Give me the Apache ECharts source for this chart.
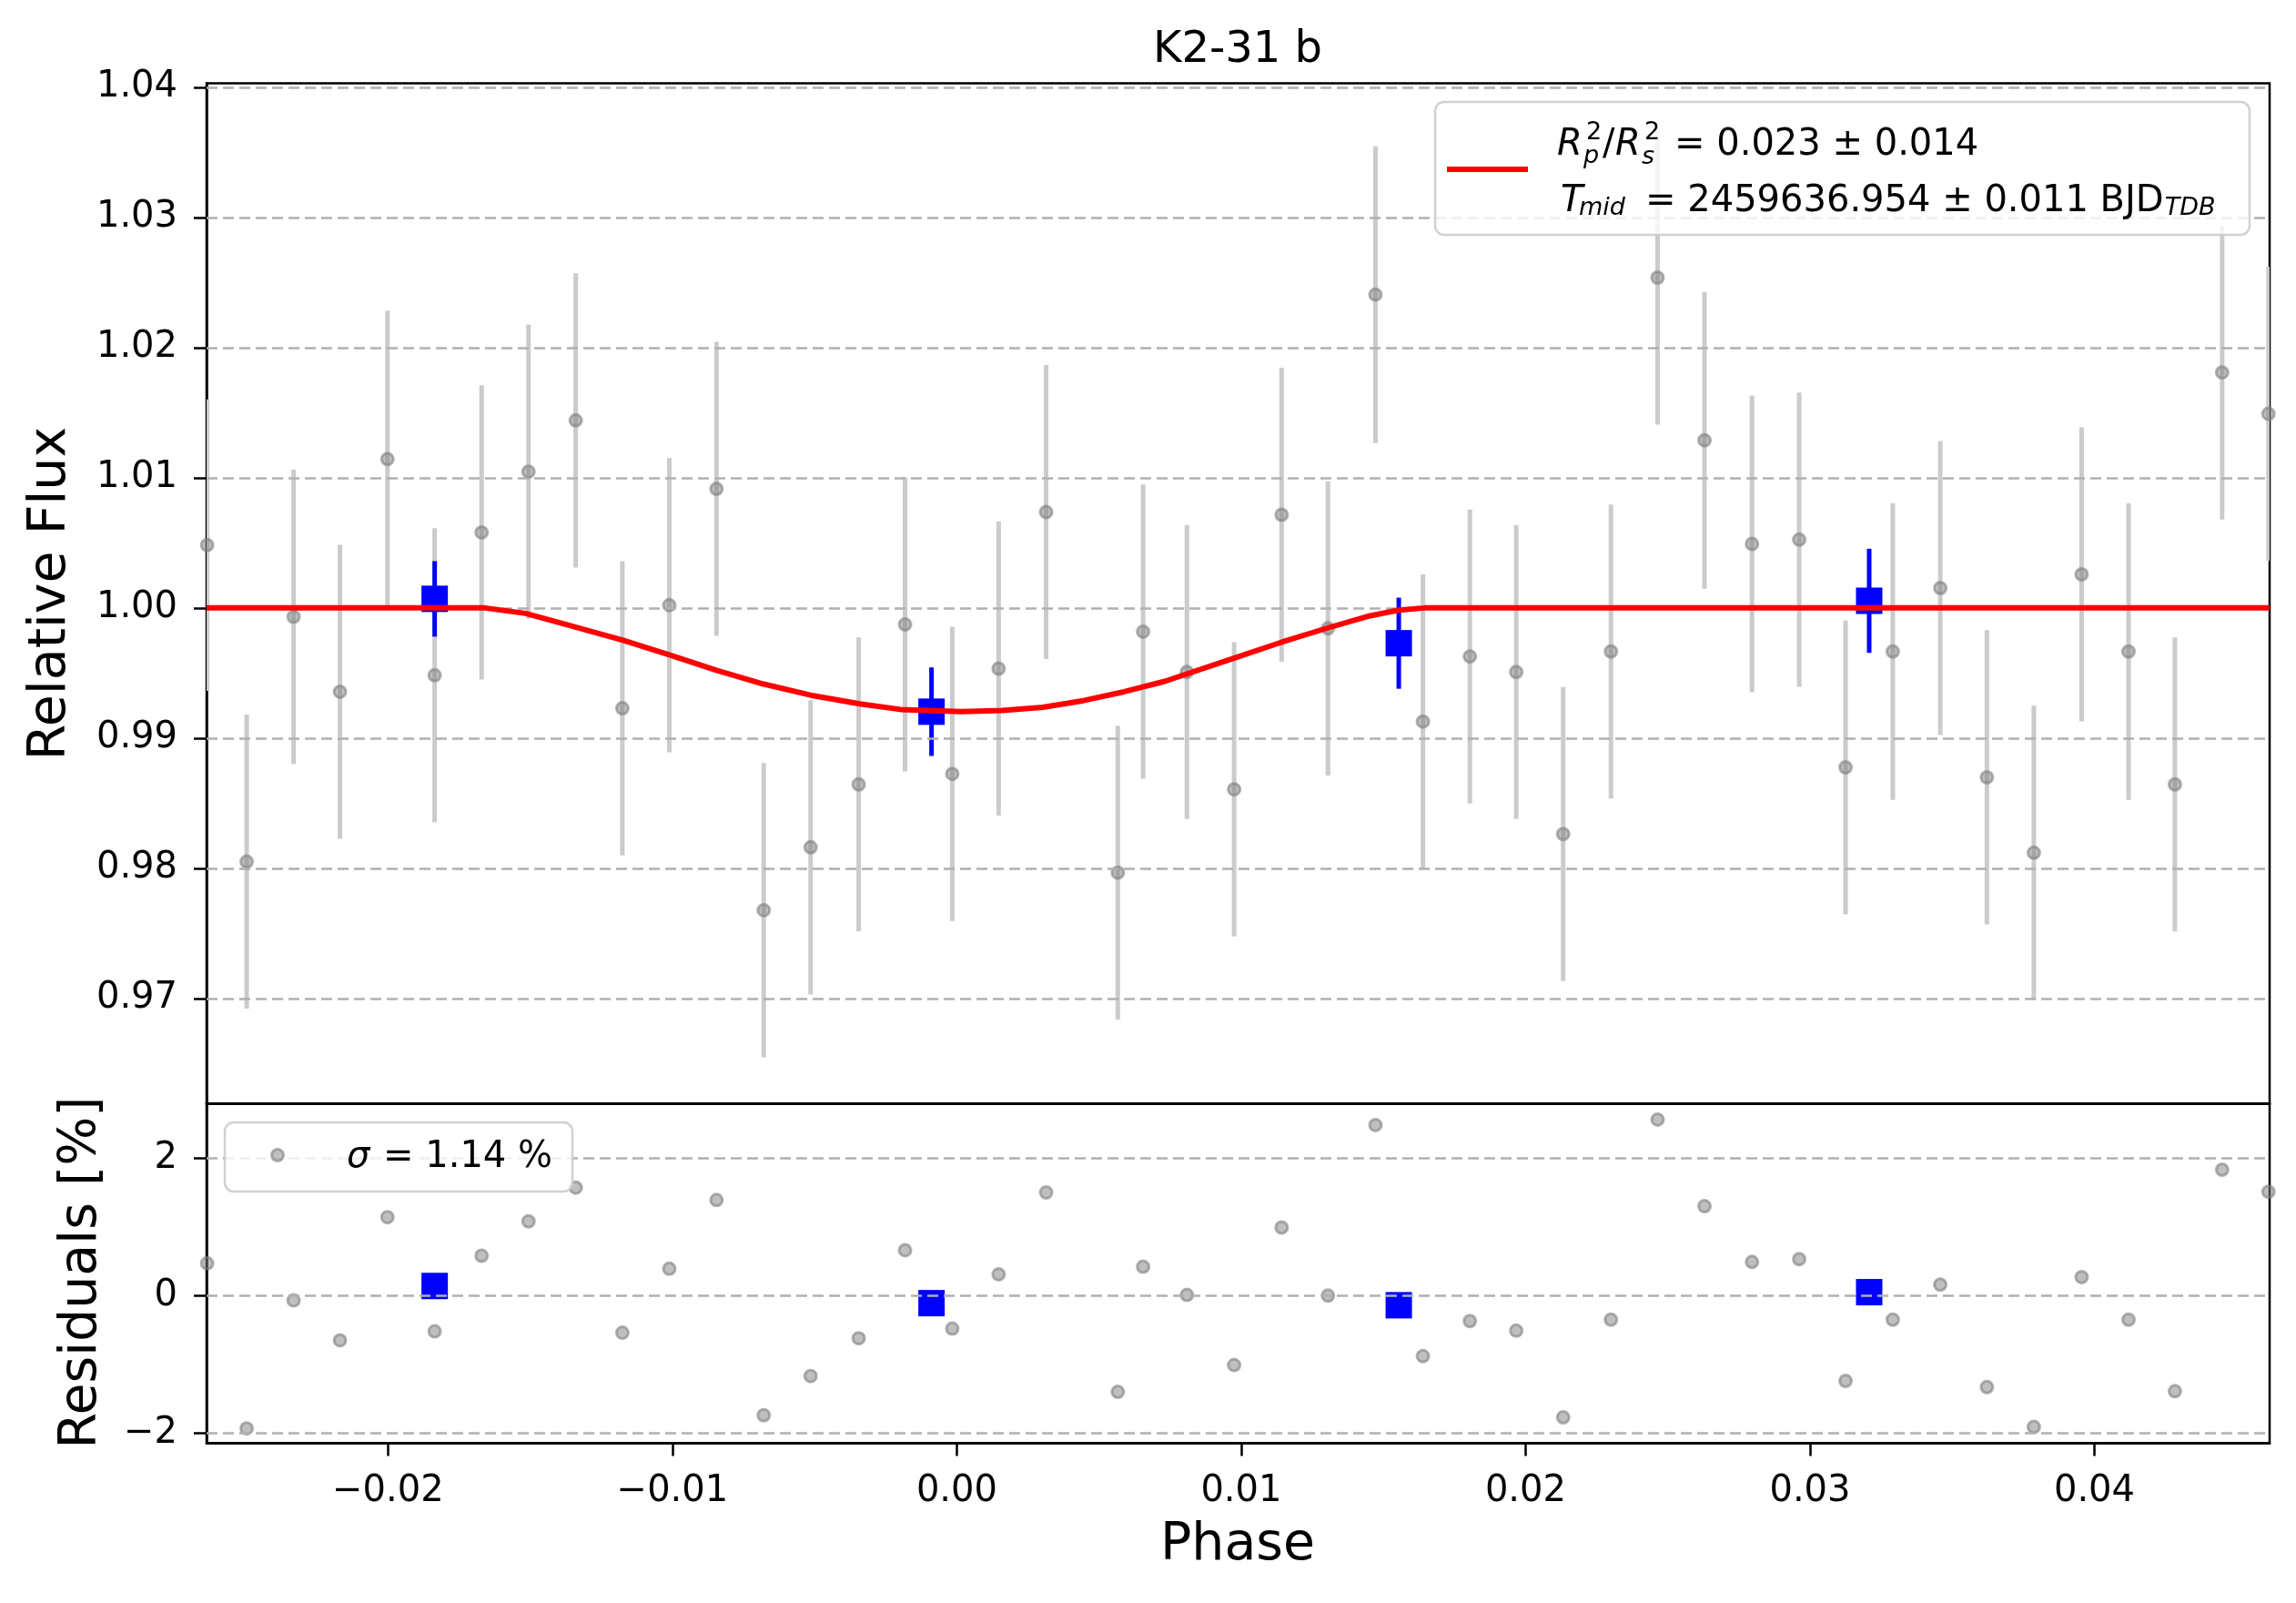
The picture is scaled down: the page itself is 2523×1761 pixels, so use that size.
<!DOCTYPE html>
<html>
<head>
<meta charset="utf-8">
<script src="https://cdn.jsdelivr.net/npm/echarts@6/dist/echarts.min.js"></script>
<style>
  html, body { margin: 0; padding: 0; background: #fff; }
  #chart { width: 2523px; height: 1761px; }
</style>
</head>
<body>
<div id="chart"></div>
<script>
// unbinned light curve
const phase = [-0.02636, -0.02497, -0.02332, -0.02169, -0.02002, -0.01836, -0.01671, -0.01506, -0.01340, -0.01176,
  -0.01011, -0.00845, -0.00679, -0.00514, -0.00345, -0.00182, -0.00016, 0.00147, 0.00314, 0.00566,
  0.00655, 0.00809, 0.00975, 0.01142, 0.01305, 0.01472, 0.01639, 0.01804, 0.01967, 0.02132,
  0.02300, 0.02464, 0.02629, 0.02796, 0.02962, 0.03125, 0.03291, 0.03458, 0.03622, 0.03787,
  0.03955, 0.04120, 0.04283, 0.04449, 0.04612]
const flux = [1.00483, 0.98051, 0.99932, 0.99356, 1.01144, 0.99483, 1.00580, 1.01047, 1.01441, 0.99229,
  1.00021, 1.00915, 0.97678, 0.98161, 0.98644, 0.99873, 0.98725, 0.99534, 1.00737, 0.97966,
  0.99818, 0.99508, 0.98606, 1.00716, 0.99843, 1.02407, 0.99127, 0.99627, 0.99508, 0.98263,
  0.99665, 1.02538, 1.01288, 1.00492, 1.00525, 0.98775, 0.99665, 1.00153, 0.98699, 0.98119,
  1.00258, 0.99665, 0.98644, 1.01809, 1.01492]
const fluxErr = [0.0112, 0.0113, 0.0113, 0.0113, 0.0114, 0.0113, 0.0113, 0.0113, 0.0113, 0.0113,
  0.0113, 0.0113, 0.0113, 0.0113, 0.0113, 0.0113, 0.0113, 0.0113, 0.0113, 0.0113,
  0.0113, 0.0113, 0.0113, 0.0113, 0.0113, 0.0114, 0.0113, 0.0113, 0.0113, 0.0113,
  0.0113, 0.0113, 0.0114, 0.0114, 0.0113, 0.0113, 0.0114, 0.0113, 0.0113, 0.0113,
  0.0113, 0.0114, 0.0113, 0.0113, 0.0113]
const residual = [0.47, -1.93, -0.07, -0.65, 1.14, -0.52, 0.58, 1.08, 1.57, -0.54,
  0.39, 1.39, -1.74, -1.17, -0.62, 0.66, -0.48, 0.31, 1.50, -1.40,
  0.42, 0.01, -1.01, 0.99, 0.00, 2.48, -0.88, -0.37, -0.51, -1.77,
  -0.35, 2.56, 1.30, 0.49, 0.53, -1.24, -0.35, 0.16, -1.33, -1.91,
  0.27, -0.35, -1.39, 1.83, 1.51]

// binned points
const binPhase = [-0.01836, -0.00089, 0.01554, 0.03208]
const binFlux = [1.00070, 0.99203, 0.99729, 1.00055]
const binErr = [0.0029, 0.0034, 0.0035, 0.0040]
const binResidual = [0.14, -0.11, -0.14, 0.05]

// transit model
const modelPhase = [-0.02638, -0.01659, -0.01516, -0.01373, -0.01176, -0.01011, -0.00845, -0.00679, -0.00514, -0.00341,
  -0.00198, 0.00016, 0.00159, 0.00302, 0.00445, 0.00588, 0.00731, 0.00945, 0.01142, 0.01305,
  0.01445, 0.01554, 0.01644, 0.04616]
const modelFlux = [1.0, 1.0, 0.99958, 0.99873, 0.99754, 0.99640, 0.99521, 0.99415, 0.99330, 0.99263,
  0.99220, 0.99203, 0.99212, 0.99237, 0.99288, 0.99356, 0.99436, 0.99593, 0.99737, 0.99847,
  0.99936, 0.99983, 1.0, 1.0]

const phaseTicks = [-0.02, -0.01, 0.00, 0.01, 0.02, 0.03, 0.04]
const fluxTicks = [0.97, 0.98, 0.99, 1.00, 1.01, 1.02, 1.03, 1.04]
const residualTicks = [-2, 0, 2]

const xMin = -0.02638
const xMax = 0.04616
const fluxMin = 0.96191
const fluxMax = 1.04031
const resMin = -2.148
const resMax = 2.789

const FONT = 'DejaVu Sans'
const minus = (s) => s.replace('-', '\u2212')

// text width, to place the subscript right after "BJD"
const measure = (text, size) => {
  const ctx = document.createElement('canvas').getContext('2d')
  ctx.font = `${size}px "${FONT}"`
  return ctx.measureText(text).width
}

const errorBar = (color, width) => (params, api) => {
  const top = api.coord([api.value(0), api.value(1)])
  const bot = api.coord([api.value(0), api.value(2)])
  return {
    type: 'line',
    shape: { x1: top[0], y1: top[1], x2: bot[0], y2: bot[1] },
    style: { stroke: color, lineWidth: width }
  }
}

const gridLines = (ticks) => ({
  silent: true,
  symbol: 'none',
  label: { show: false },
  lineStyle: { color: '#b0b0b0', width: 2.5, type: [12, 6] },
  data: ticks.map(v => ({ yAxis: v }))
})

const grayDot = {
  color: 'rgba(128,128,128,0.5)',
  borderColor: 'rgba(128,128,128,0.6)',
  borderWidth: 3,
  opacity: 1
}

const axisCommon = {
  axisLine: { show: true, onZero: false, lineStyle: { color: '#000', width: 2.5 } },
  splitLine: { show: false }
}

const txt = (o) => ({ type: 'text', z: 110, style: Object.assign({ fontFamily: FONT, fill: '#000' }, o) })

const line2 = '= 2459636.954 \u00b1 0.011 BJD'
const line2X = 1808

const chart = echarts.init(document.getElementById('chart'))
chart.setOption({
  animation: false,
  backgroundColor: '#fff',
  grid: [
    { left: 227, top: 91.5, width: 2267, height: 1121, show: true, borderColor: '#000', borderWidth: 2.5, backgroundColor: 'transparent' },
    { left: 227, top: 1212.6, width: 2267, height: 373, show: true, borderColor: '#000', borderWidth: 2.5, backgroundColor: 'transparent' }
  ],
  xAxis: [
    Object.assign({}, axisCommon, {
      type: 'value', gridIndex: 0, min: xMin, max: xMax,
      axisTick: { show: false }, axisLabel: { show: false }
    }),
    Object.assign({}, axisCommon, {
      type: 'value', gridIndex: 1, min: xMin, max: xMax,
      axisTick: { show: true, length: 14, customValues: phaseTicks, lineStyle: { color: '#000', width: 2.5 } },
      axisLabel: {
        customValues: phaseTicks, margin: 33, fontFamily: FONT, fontSize: 40, color: '#000',
        formatter: v => minus(v.toFixed(2))
      }
    })
  ],
  yAxis: [
    Object.assign({}, axisCommon, {
      type: 'value', gridIndex: 0, min: fluxMin, max: fluxMax,
      axisTick: { show: true, length: 14, customValues: fluxTicks, lineStyle: { color: '#000', width: 2.5 } },
      axisLabel: {
        customValues: fluxTicks, margin: 32, fontFamily: FONT, fontSize: 40, color: '#000',
        formatter: v => v.toFixed(2)
      }
    }),
    Object.assign({}, axisCommon, {
      type: 'value', gridIndex: 1, min: resMin, max: resMax,
      axisTick: { show: true, length: 14, customValues: residualTicks, lineStyle: { color: '#000', width: 2.5 } },
      axisLabel: {
        customValues: residualTicks, margin: 32, fontFamily: FONT, fontSize: 40, color: '#000',
        formatter: v => minus(String(Math.round(v)))
      }
    })
  ],
  series: [
    // grid lines
    {
      type: 'scatter', xAxisIndex: 0, yAxisIndex: 0, z: 1, symbolSize: 0, silent: true,
      data: [[xMin, fluxMin]], markLine: gridLines(fluxTicks)
    },
    {
      type: 'scatter', xAxisIndex: 1, yAxisIndex: 1, z: 1, symbolSize: 0, silent: true,
      data: [[xMin, resMin]], markLine: gridLines(residualTicks)
    },
    // light curve
    {
      type: 'custom', xAxisIndex: 0, yAxisIndex: 0, z: 2, clip: true,
      renderItem: errorBar('#cbcbcb', 5),
      encode: { x: 0, y: [1, 2] },
      data: phase.map((p, i) => [p, flux[i] + fluxErr[i], flux[i] - fluxErr[i]])
    },
    {
      type: 'scatter', xAxisIndex: 0, yAxisIndex: 0, z: 3, symbol: 'circle', symbolSize: 13,
      itemStyle: grayDot,
      data: phase.map((p, i) => [p, flux[i]])
    },
    {
      type: 'line', xAxisIndex: 0, yAxisIndex: 0, z: 5, showSymbol: false, symbol: 'none',
      smooth: false,
      lineStyle: { color: '#ff0000', width: 6, join: 'round' },
      data: modelPhase.map((p, i) => [p, modelFlux[i]])
    },
    {
      type: 'custom', xAxisIndex: 0, yAxisIndex: 0, z: 4,
      renderItem: errorBar('#0000ff', 5),
      encode: { x: 0, y: [1, 2] },
      data: binPhase.map((p, i) => [p, binFlux[i] + binErr[i], binFlux[i] - binErr[i]])
    },
    {
      type: 'scatter', xAxisIndex: 0, yAxisIndex: 0, z: 4, symbol: 'rect', symbolSize: 29,
      itemStyle: { color: '#0000ff', opacity: 1 },
      data: binPhase.map((p, i) => [p, binFlux[i]])
    },
    // residuals
    {
      type: 'scatter', xAxisIndex: 1, yAxisIndex: 1, z: 3, symbol: 'circle', symbolSize: 13,
      itemStyle: grayDot,
      data: phase.map((p, i) => [p, residual[i]])
    },
    {
      type: 'scatter', xAxisIndex: 1, yAxisIndex: 1, z: 4, symbol: 'rect', symbolSize: 29,
      itemStyle: { color: '#0000ff', opacity: 1 },
      data: binPhase.map((p, i) => [p, binResidual[i]])
    }
  ],
  graphic: [
    txt({ text: 'K2-31 b', x: 1360, y: 56, fontSize: 48, align: 'center', verticalAlign: 'middle' }),
    Object.assign(txt({ text: 'Relative Flux', fontSize: 57, align: 'center', verticalAlign: 'middle' }), { x: 56, y: 652, rotation: Math.PI / 2 }),
    Object.assign(txt({ text: 'Residuals [%]', fontSize: 57, align: 'center', verticalAlign: 'middle' }), { x: 90, y: 1398, rotation: Math.PI / 2 }),
    txt({ text: 'Phase', x: 1360, y: 1698, fontSize: 57, align: 'center', verticalAlign: 'middle' }),

    // model legend
    { type: 'rect', z: 100, shape: { x: 1577, y: 112, width: 895, height: 146, r: 10 },
      style: { fill: 'rgba(255,255,255,0.8)', stroke: 'rgba(204,204,204,0.9)', lineWidth: 2.5 } },
    { type: 'line', z: 105, shape: { x1: 1590, y1: 186, x2: 1679, y2: 186 }, style: { stroke: '#ff0000', lineWidth: 6 } },
    txt({ text: 'R', x: 1711, y: 160, fontSize: 40, fontStyle: 'italic', verticalAlign: 'middle' }),
    txt({ text: '2', x: 1743, y: 146, fontSize: 27, verticalAlign: 'middle' }),
    txt({ text: 'p', x: 1740, y: 172, fontSize: 27, fontStyle: 'italic', verticalAlign: 'middle' }),
    txt({ text: '/', x: 1761, y: 160, fontSize: 40, verticalAlign: 'middle' }),
    txt({ text: 'R', x: 1775, y: 160, fontSize: 40, fontStyle: 'italic', verticalAlign: 'middle' }),
    txt({ text: '2', x: 1807, y: 146, fontSize: 27, verticalAlign: 'middle' }),
    txt({ text: 's', x: 1804, y: 173, fontSize: 27, fontStyle: 'italic', verticalAlign: 'middle' }),
    txt({ text: '= 0.023 \u00b1 0.014', x: 1840, y: 160, fontSize: 40, verticalAlign: 'middle' }),
    txt({ text: 'T', x: 1715, y: 222, fontSize: 40, fontStyle: 'italic', verticalAlign: 'middle' }),
    txt({ text: 'mid', x: 1735, y: 229, fontSize: 27, fontStyle: 'italic', verticalAlign: 'middle' }),
    txt({ text: line2, x: line2X, y: 222, fontSize: 40, verticalAlign: 'middle' }),
    txt({ text: 'TDB', x: line2X + measure(line2, 40) + 1, y: 229, fontSize: 27, fontStyle: 'italic', verticalAlign: 'middle' }),

    // residual legend
    { type: 'rect', z: 100, shape: { x: 247, y: 1233, width: 382, height: 76, r: 10 },
      style: { fill: 'rgba(255,255,255,0.8)', stroke: 'rgba(204,204,204,0.9)', lineWidth: 2.5 } },
    { type: 'circle', z: 105, shape: { cx: 305, cy: 1269, r: 6.5 },
      style: { fill: 'rgba(128,128,128,0.5)', stroke: 'rgba(128,128,128,0.6)', lineWidth: 3 } },
    txt({ text: '\u03c3', x: 381, y: 1272, fontSize: 40, fontStyle: 'italic', verticalAlign: 'middle' }),
    txt({ text: '= 1.14 %', x: 421, y: 1272, fontSize: 40, verticalAlign: 'middle' })
  ]
})
</script>
</body>
</html>
